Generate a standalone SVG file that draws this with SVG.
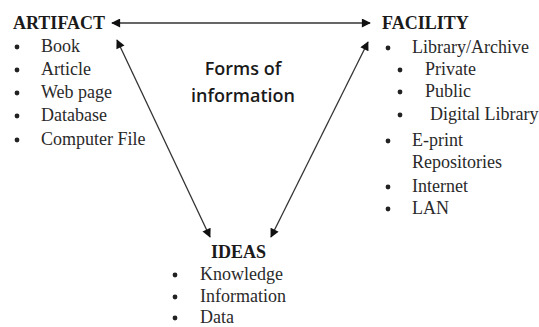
<svg xmlns="http://www.w3.org/2000/svg" width="539" height="327" viewBox="0 0 539 327">
<style>
.h{font-family:"Liberation Serif",serif;font-weight:bold;font-size:18px;fill:#1a1a1a}
.t{font-family:"Liberation Serif",serif;font-size:18px;fill:#2a2a2a}
.c{font-family:"Open Sans","Liberation Sans",sans-serif;font-weight:600;font-size:18px;fill:#1a1a1a}
.l{stroke:#333;stroke-width:1.3;fill:none;marker-start:url(#a);marker-end:url(#a)}
</style>
<defs>
<marker id="a" viewBox="0 0 10 10" refX="9" refY="5" markerWidth="10" markerHeight="9" markerUnits="userSpaceOnUse" orient="auto-start-reverse">
<path d="M0,0 L10,5 L0,10 z" fill="#111"/>
</marker>
<g id="b"><circle r="2.4" fill="#222"/></g>
</defs>
<rect width="539" height="327" fill="#fff"/>
<g id="connectors">
<line class="l" x1="112" y1="23" x2="370" y2="23"/>
<line class="l" x1="117" y1="40" x2="210" y2="237"/>
<line class="l" x1="368" y1="42" x2="271" y2="237"/>
</g>
<g id="artifact">
<text class="h" x="13" y="29">ARTIFACT</text>
<use href="#b" x="17" y="47"/><text class="t" x="41" y="52">Book</text>
<use href="#b" x="17" y="70"/><text class="t" x="41" y="75">Article</text>
<use href="#b" x="17" y="93"/><text class="t" x="41" y="98">Web page</text>
<use href="#b" x="17" y="116"/><text class="t" x="41" y="121">Database</text>
<use href="#b" x="17" y="140"/><text class="t" x="41" y="145">Computer File</text>
</g>
<g id="facility">
<text class="h" x="382" y="29">FACILITY</text>
<use href="#b" x="388" y="48"/><text class="t" x="412" y="53">Library/Archive</text>
<use href="#b" x="400" y="70"/><text class="t" x="425" y="75">Private</text>
<use href="#b" x="400" y="92"/><text class="t" x="425" y="97">Public</text>
<use href="#b" x="400" y="115"/><text class="t" x="430" y="120">Digital Library</text>
<use href="#b" x="388" y="141"/><text class="t" x="412" y="146">E-print</text>
<text class="t" x="412" y="168">Repositories</text>
<use href="#b" x="388" y="187"/><text class="t" x="412" y="192">Internet</text>
<use href="#b" x="388" y="209"/><text class="t" x="412" y="214">LAN</text>
</g>
<g id="ideas">
<text class="h" x="211" y="258">IDEAS</text>
<use href="#b" x="175" y="275"/><text class="t" x="200" y="280">Knowledge</text>
<use href="#b" x="175" y="297"/><text class="t" x="200" y="302">Information</text>
<use href="#b" x="175" y="318"/><text class="t" x="200" y="323">Data</text>
</g>
<g id="center">
<text class="c" x="243" y="75" text-anchor="middle">Forms of</text>
<text class="c" x="243" y="102" text-anchor="middle">information</text>
</g>
</svg>
